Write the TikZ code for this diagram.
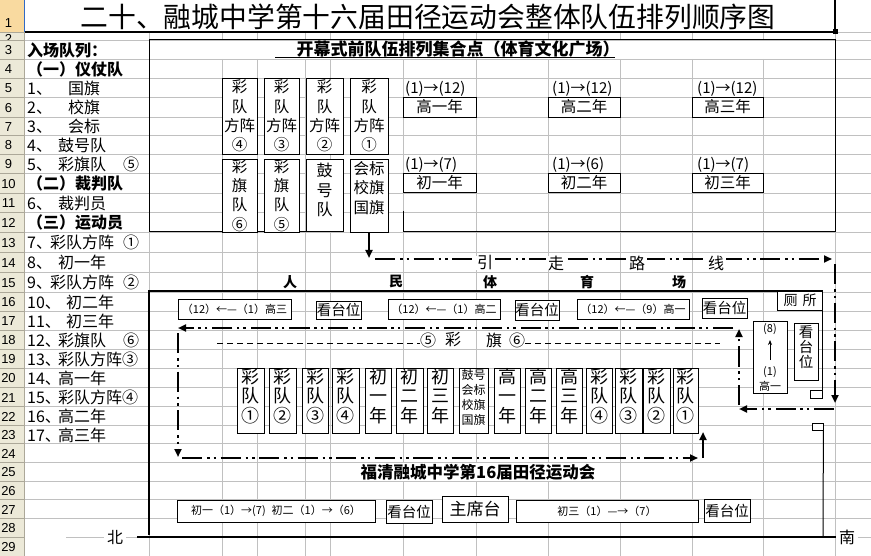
\documentclass[tikz,border=0pt]{standalone}
\usepackage{fontspec}
\setmainfont{Noto Sans CJK SC}
\newfontfamily\hdrfont{Liberation Sans}
\usetikzlibrary{arrows.meta}
\definecolor{gridc}{RGB}{192,192,192}
\definecolor{hdrbg}{RGB}{236,233,216}
\definecolor{hdrln}{RGB}{172,168,153}
\definecolor{hdrsel}{RGB}{249,218,160}
\definecolor{selblue}{RGB}{49,106,197}
\newcommand\fsz[2]{\fontsize{#1bp}{#2bp}\selectfont}
\tikzset{
  bx/.style={draw, line width=0.8bp, fill=white, inner sep=0pt, align=center},
  tx/.style={inner sep=0pt, align=center},
  lt/.style={anchor=base west, inner sep=0pt, font=\fsz{16}{19}},
  ddl/.style={line width=2.4bp, dash pattern=on 20bp off 5bp on 2.5bp off 4bp on 2.5bp off 4.5bp},
  tip/.style={-{Triangle[length=8bp,width=7bp]}},
  sol/.style={line width=2.4bp},
  gl/.style={gridc, line width=0.8bp},
  hd/.style={font=\hdrfont\fsz{13}{15}, inner sep=0pt},
}
\begin{document}
\begin{tikzpicture}[x=1bp,y=-1bp]
\useasboundingbox (0,0) rectangle (871,556);
\fill[white] (0,0) rectangle (871,556);
% ---------- grid ----------
\foreach \yy in {40,59,78,97,117,135,154,173,193,212,232,252,272,292,311,330,349,368,387,406,425,443,462,481,499,518,537}
  \draw[gl] (25,\yy) -- (871,\yy);
\draw[gl] (835,32) -- (871,32);
\foreach \xx in {222,257,305,330,403,476,548,620,692,763}
  {\draw[gl] (\xx,32) -- (\xx,40); \draw[gl] (\xx,59) -- (\xx,556);}
\foreach \xx in {149,835} \draw[gl] (\xx,32) -- (\xx,556);
\draw[white, line width=1.5bp] (25,537) -- (66,537);
% ---------- row header ----------
\fill[hdrbg] (0,0) rectangle (24.5,556);
\fill[hdrsel] (0,0) rectangle (24.5,32);
\draw[hdrln] (0,32) -- (24.5,32) (0,40) -- (24.5,40);
\foreach \r/\ya/\yb in {3/40/59,4/59/78,5/78/97,6/97/117,7/117/135,8/135/154,9/154/173,10/173/193,11/193/212,12/212/232,13/232/252,14/252/272,15/272/292,16/292/311,17/311/330,18/330/349,19/349/368,20/368/387,21/387/406,22/406/425,23/425/443,24/443/462,25/462/481,26/481/499,27/499/518,28/518/537,29/537/556}
 {\draw[hdrln] (0,\yb) -- (24.5,\yb);
  \node[hd] (rh\r) at (8.5,{(\ya+\yb)/2+1}) {\r};}
\node[hd] (rh1) at (8.5,23) {1};
\begin{scope}
 \clip (0,32.5) rectangle (24.5,40);
 \node[hd] (rh2) at (8.5,38.5) {2};
\end{scope}
\draw[hdrln, line width=1bp] (24.5,32) -- (24.5,556);
\draw[selblue, line width=1.2bp] (24.5,0) -- (24.5,32);
% ---------- title ----------
\node[font=\fsz{27.8}{30}, inner sep=0pt] (title) at (428,17) {二十、融城中学第十六届田径运动会整体队伍排列顺序图};
\draw[line width=2.2bp] (25,32) -- (835,32);
\draw[line width=2.2bp] (835,0) -- (835,32);
\fill (832.5,29.5) rectangle (837.5,34.5);
% ---------- column A ----------
\foreach \n/\x/\y/\t in {
 a3/27/56.5/{\bfseries 入场队列：},
 a4/27/75.5/{\bfseries （一）仪仗队},
 a5a/27/94.5/1、, a5b/68/94.5/国旗,
 a6a/27/114/2、, a6b/68/114/校旗,
 a7a/27/133/3、, a7b/68/133/会标,
 a8a/27/151.5/4、, a8b/58/151.5/鼓号队,
 a9a/27/170.5/5、, a9b/58/170.5/彩旗队, a9c/123/170.5/⑤,
 a10/27/190/{\bfseries （二）裁判队},
 a11a/27/209.5/6、, a11b/58/209.5/裁判员,
 a12/27/229/{\bfseries （三）运动员},
 a13a/27/249/7、, a13b/50/249/彩队方阵, a13c/123/249/①,
 a14a/27/269/8、, a14b/58/269/初一年,
 a15a/27/289/9、, a15b/50/289/彩队方阵, a15c/123/289/②,
 a16a/27/308.5/10、, a16b/66/308.5/初二年,
 a17a/27/327.5/11、, a17b/66/327.5/初三年,
 a18a/27/346.5/12、, a18b/58/346.5/彩旗队, a18c/123/346.5/⑥,
 a19a/27/365.5/13、, a19b/58/365.5/彩队方阵③,
 a20a/27/384.5/14、, a20b/58/384.5/高一年,
 a21a/27/403.5/15、, a21b/58/403.5/彩队方阵④,
 a22a/27/422.5/16、, a22b/58/422.5/高二年,
 a23a/27/441/17、, a23b/58/441/高三年}
 \node[lt] (\n) at (\x,\y) {\t};
% ---------- assembly area (top box) ----------
\draw[line width=1bp] (330,232) -- (149,232) -- (149,40) -- (835,40) -- (835,232) -- (403,232) -- (403,211);
\node[font=\fsz{17}{19}\bfseries, inner sep=0pt] (kmt) at (458,49) {开幕式前队伍排列集合点（体育文化广场）};
\draw[line width=1bp] (275,58) -- (615,58);
\node[bx, font=\fsz{15.5}{19.2}, minimum width=35bp, minimum height=76bp] (c4) at (239.5,116) {彩\\队\\方阵\\④};
\node[bx, font=\fsz{15.5}{19.2}, minimum width=35bp, minimum height=76bp] (c3) at (281.5,116) {彩\\队\\方阵\\③};
\node[bx, font=\fsz{15.5}{19.2}, minimum width=37bp, minimum height=76bp] (c2) at (324.5,116) {彩\\队\\方阵\\②};
\node[bx, font=\fsz{15.5}{19.2}, minimum width=38bp, minimum height=76bp] (c1) at (369,116) {彩\\队\\方阵\\①};
\node[bx, font=\fsz{15.5}{19.2}, minimum width=35bp, minimum height=73bp] (f6) at (239.5,195.5) {彩\\旗\\队\\⑥};
\node[bx, font=\fsz{15.5}{19.2}, minimum width=35bp, minimum height=73bp] (f5) at (281.5,195.5) {彩\\旗\\队\\⑤};
\node[bx, minimum width=37bp, minimum height=72bp] (gh) at (324.5,195) {};
\node[tx, font=\fsz{16}{19.5}] (ght) at (324.5,190) {鼓\\号\\队};
\node[bx, minimum width=38bp, minimum height=73bp] (hb) at (369,195.5) {};
\node[tx, font=\fsz{15.5}{19.5}] (hbt) at (369,188) {会标\\校旗\\国旗};
% classes
\node[lt, font=\fsz{15}{18}] (q1) at (405,93.5) {(1)→(12)};
\node[lt, font=\fsz{15}{18}] (q2) at (552,93.5) {(1)→(12)};
\node[lt, font=\fsz{15}{18}] (q3) at (697,93.5) {(1)→(12)};
\node[bx, font=\fsz{15.5}{18}, minimum width=73bp, minimum height=20bp] (g1) at (439.5,107) {高一年};
\node[bx, font=\fsz{15.5}{18}, minimum width=72bp, minimum height=20bp] (g2) at (584,107) {高二年};
\node[bx, font=\fsz{15.5}{18}, minimum width=71bp, minimum height=20bp] (g3) at (727.5,107) {高三年};
\node[lt, font=\fsz{15}{18}] (q4) at (405,169.5) {(1)→(7)};
\node[lt, font=\fsz{15}{18}] (q5) at (552,169.5) {(1)→(6)};
\node[lt, font=\fsz{15}{18}] (q6) at (697,169.5) {(1)→(7)};
\node[bx, font=\fsz{15.5}{18}, minimum width=73bp, minimum height=19bp] (y1) at (439.5,182.5) {初一年};
\node[bx, font=\fsz{15.5}{18}, minimum width=72bp, minimum height=19bp] (y2) at (584,182.5) {初二年};
\node[bx, font=\fsz{15.5}{18}, minimum width=71bp, minimum height=19bp] (y3) at (727.5,182.5) {初三年};
% ---------- stadium ----------
\foreach \n/\x/\t in {m1/290/人, m2/396/民, m3/490/体, m4/587/育, m5/679/场}
  \node[tx, font=\fsz{14}{16}\bfseries] (\n) at (\x,282) {\t};
\draw[line width=1.2bp] (149,535) -- (149,291) -- (822.5,291) -- (822.5,390);
\node[bx, minimum width=12bp, minimum height=8bp] (gate1) at (816.5,394) {};
\node[bx, minimum width=11bp, minimum height=7bp] (gate2) at (817.5,426.5) {};
\coordinate (sE) at (823,537);
\draw[line width=1bp] (gate2.south east) -- (sE);
\draw[gridc, line width=0.8bp] (67,537) -- (137,537);
\draw[line width=1.2bp] (137,537) -- (837,537);
\node[fill=white, font=\fsz{16}{18}, inner xsep=3bp, inner ysep=1bp] (bei) at (115,537) {北};
\node[fill=white, font=\fsz{16}{18}, inner xsep=3bp, inner ysep=1bp] (nan) at (847,537) {南};
% top row of stadium
\node[bx, font=\fsz{11}{13}, minimum width=113bp, minimum height=20bp] (s3) at (234.5,309) {（12）←—（1）高三};
\node[bx, font=\fsz{14.5}{16}, minimum width=45bp, minimum height=18bp] (k1) at (338.5,310) {看台位};
\node[bx, font=\fsz{11}{13}, minimum width=112bp, minimum height=20bp] (s2) at (444,309) {（12）←—（1）高二};
\node[bx, font=\fsz{14.5}{16}, minimum width=44bp, minimum height=20bp] (k2) at (537,310) {看台位};
\node[bx, font=\fsz{11}{13}, minimum width=112bp, minimum height=20bp] (s1) at (633,309) {（12）←—（9）高一};
\node[bx, font=\fsz{14.5}{16}, minimum width=45bp, minimum height=20bp] (k3) at (724.5,308) {看台位};
\node[bx, font=\fsz{14}{16}, minimum width=45bp, minimum height=19bp] (wc) at (800,300.5) {厕\hspace{5bp}所};
\node[bx, minimum width=34bp, minimum height=72bp] (g8) at (770,357) {};
\node[tx, font=\fsz{11}{13}] (g8a) at (770,329) {(8)};
\node[tx, font=\fsz{11}{13}] (g8c) at (770,372) {(1)};
\node[tx, font=\fsz{11}{13}] (g8d) at (770,386) {高一};
\coordinate (g8s) at (770,360);
\coordinate (g8e) at (770,340);
\draw[line width=0.9bp, -{Stealth[length=5bp,width=4bp]}] (g8s) -- (g8e);
\node[bx, minimum width=24bp, minimum height=57bp] (k4) at (806,351.5) {};
\node[tx, font=\fsz{14.5}{15}] (k4t) at (806,347) {看\\台\\位};
% marching teams
\foreach \i/\xa/\xb/\t in {1/237/264/彩\\队\\①,2/269/296/彩\\队\\②,3/302/328/彩\\队\\③,4/332/359/彩\\队\\④,5/365/391/初\\一\\年,6/396/423/初\\二\\年,7/427/453/初\\三\\年,9/494/520/高\\一\\年,10/525/551/高\\二\\年,11/556/582/高\\三\\年,12/586/612/彩\\队\\④,13/615/642/彩\\队\\③,14/643/670/彩\\队\\②,15/673/698/彩\\队\\①}
{
 \pgfmathsetmacro\xc{(\xa+\xb)/2}
 \pgfmathsetmacro\ww{\xb-\xa}
 \node[bx, minimum width=\ww bp, minimum height=65bp] (t\i) at (\xc,400.5) {};
 \node[tx, font=\fsz{18}{19.5}] (tt\i) at (\xc,396) {\t};
}
\node[bx, minimum width=29bp, minimum height=65bp] (t8) at (473.5,400.5) {};
\node[tx, font=\fsz{12}{15}] (tt8) at (473.5,397.5) {鼓号\\会标\\校旗\\国旗};
% bottom row
\node[bx, font=\fsz{11}{13}, minimum width=198bp, minimum height=22bp] (b1) at (276,511) {初一（1）→(7)\hspace{6bp}初二（1）→（6）};
\node[bx, font=\fsz{14.5}{16}, minimum width=46bp, minimum height=23bp] (k5) at (409,511.5) {看台位};
\node[bx, font=\fsz{17}{19}, minimum width=66bp, minimum height=26bp] (zx) at (475,509) {主席台};
\node[bx, font=\fsz{11}{13}, minimum width=182bp, minimum height=22bp] (b2) at (607,511) {初三（1）—→（7）};
\node[bx, font=\fsz{14.5}{16}, minimum width=46bp, minimum height=23bp] (k6) at (727,510.5) {看台位};
% ---------- route lines ----------
\coordinate (p1e) at (369,258);
\coordinate (p2s) at (375,259);  \coordinate (p2e) at (832,259);
\coordinate (p3s) at (835,264);  \coordinate (p3e) at (835,403);
\coordinate (p4s) at (834,409);  \coordinate (p4e) at (739,409);
\coordinate (p5s) at (739,405);  \coordinate (p5e) at (739,329);
\coordinate (p6s) at (733,328);  \coordinate (p6e) at (178,328);
\coordinate (p7s) at (178,333);  \coordinate (p7e) at (178,457);
\coordinate (p8s) at (182,458);  \coordinate (p8e) at (698,458);
\coordinate (p9s) at (703,458);  \coordinate (p9e) at (703,432);
\draw[sol, tip] (hb.south) -- (p1e);
\draw[ddl, tip] (p2s) -- (p2e);
\draw[ddl, tip] (p3s) -- (p3e);
\draw[ddl, tip] (p4s) -- (p4e);
\draw[ddl, tip] (p5s) -- (p5e);
\draw[ddl, tip] (p6s) -- (p6e);
\draw[ddl, tip] (p7s) -- (p7e);
\draw[ddl, tip] (p8s) -- (p8e);
\draw[sol, tip] (p9s) -- (p9e);
\foreach \n/\x/\t in {w1/485/引, w2/556/走, w3/637/路, w4/716/线}
  \node[fill=white, font=\fsz{16}{18}, inner xsep=2bp, inner ysep=0pt] (\n) at (\x,263) {\t};
\node[fill=white, font=\fsz{16.5}{18}\bfseries, inner xsep=1bp, inner ysep=1bp] (fq) at (478,472) {福清融城中学第16届田径运动会};
% ---------- flags line ----------
\node[tx, font=\fsz{16}{18}] (n5) at (428,340) {⑤};
\node[tx, font=\fsz{16}{18}] (nc) at (453,340) {彩};
\node[tx, font=\fsz{16}{18}] (nq) at (494,340) {旗};
\node[tx, font=\fsz{16}{18}] (n6) at (517,340) {⑥};
\coordinate (d1s) at (217,343);
\coordinate (d2e) at (720,343);
\draw[line width=0.9bp, dash pattern=on 6bp off 4bp] (d1s) -- (d1s -| n5.west);
\draw[line width=0.9bp, dash pattern=on 6bp off 4bp] (d2e -| n6.east) -- (d2e);
\end{tikzpicture}
\end{document}
